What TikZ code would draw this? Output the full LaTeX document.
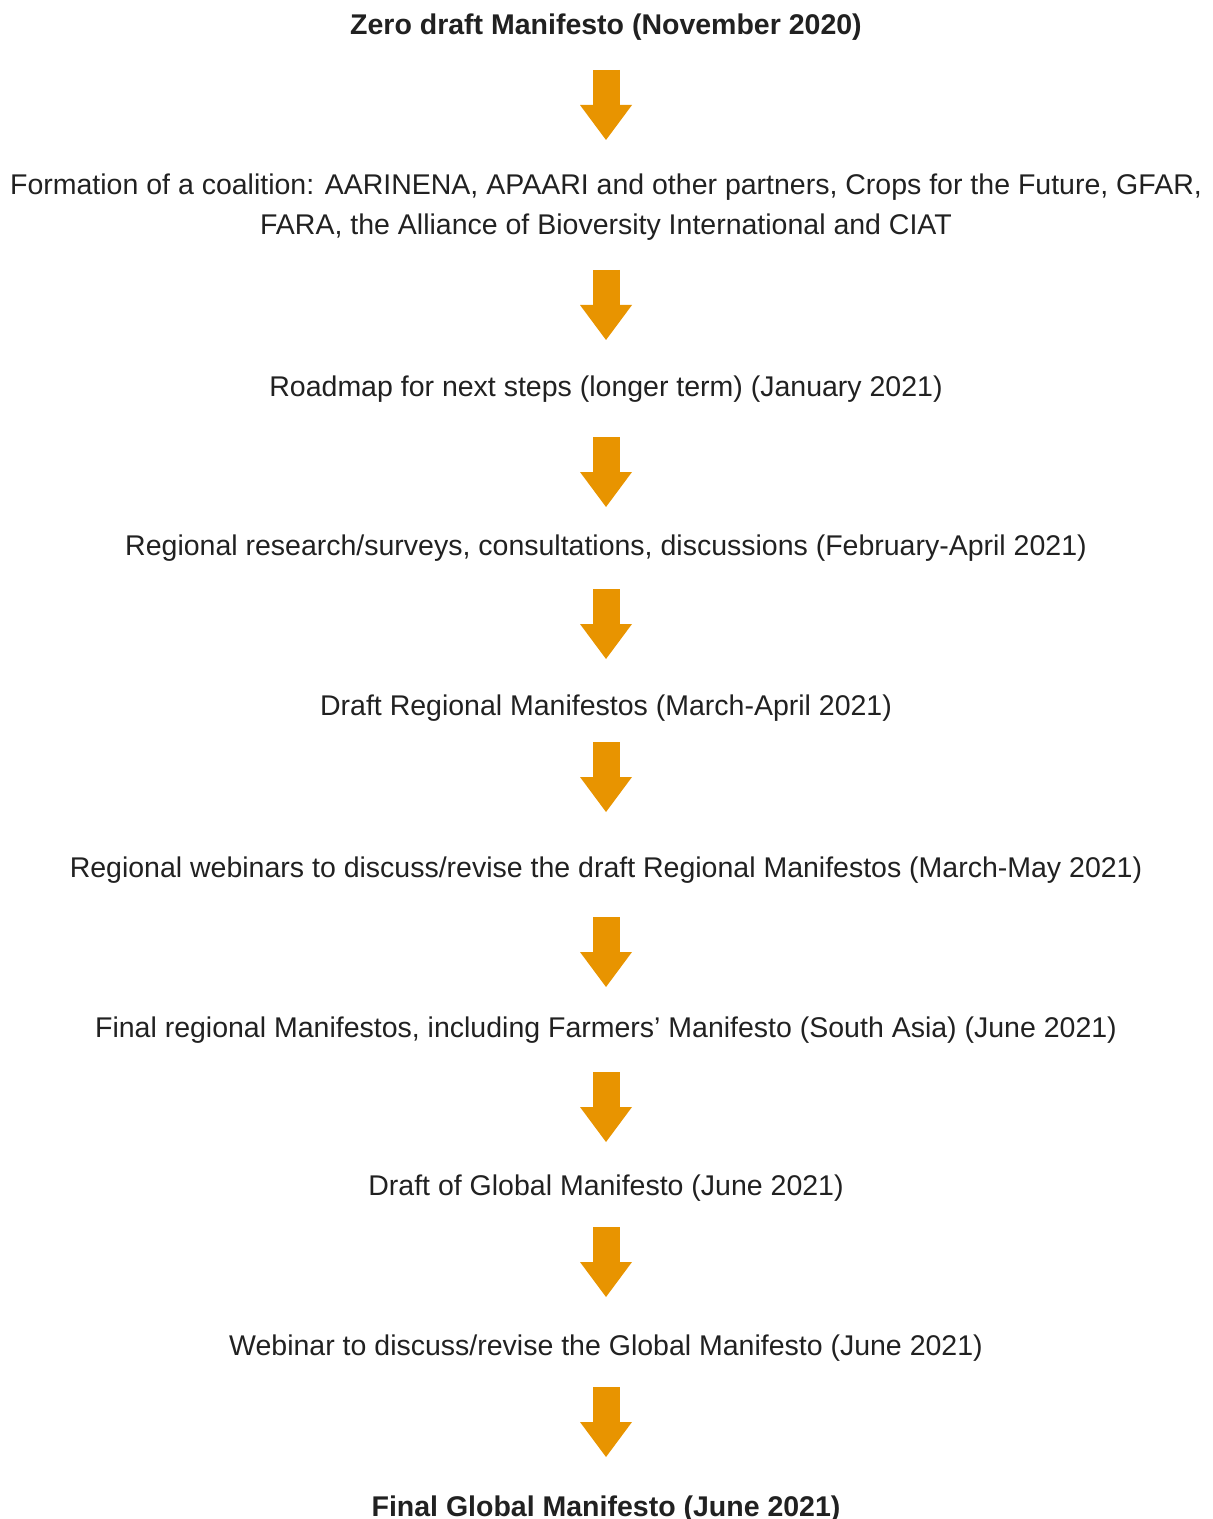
\documentclass[tikz,border=0pt]{standalone}
\usepackage{fontspec}
\setmainfont{Liberation Sans}
\usetikzlibrary{arrows.meta,calc}
\definecolor{arroworange}{RGB}{232,148,0}
\definecolor{textgrey}{RGB}{33,33,33}
\tikzset{
	stage/.style={inner sep=0pt, anchor=base, align=center, text=textgrey,
		font=\fontsize{14.25}{20}\selectfont},
	keystage/.style={stage, font=\fontsize{14.25}{20}\selectfont\bfseries},
	flowarrow/.style={draw=arroworange, line width=13.5pt,
		-{Triangle[width=26pt,length=17.5pt,line width=0pt]}}
}

\begin{document}
\begin{tikzpicture}[x=0.5pt, y=-0.5pt]
		\useasboundingbox (0,0) rectangle (1213,1519);
		\node[keystage] (zero) at (606,35) {Zero draft Manifesto (November 2020)};
		\node[stage] (coalition) at (606,235) {Formation of a coalition: AARINENA, APAARI and other partners, Crops for the Future, GFAR,\\ FARA, the Alliance of Bioversity International and CIAT};
		\node[stage] (roadmap) at (606,396) {Roadmap for next steps (longer term) (January 2021)};
		\node[stage] (research) at (606,555) {Regional research/surveys, consultations, discussions (February-April 2021)};
		\node[stage] (draftreg) at (606,715) {Draft Regional Manifestos (March-April 2021)};
		\node[stage] (webinars) at (606,877) {Regional webinars to discuss/revise the draft Regional Manifestos (March-May 2021)};
		\node[stage] (finalreg) at (606,1037) {Final regional Manifestos, including Farmers’ Manifesto (South Asia) (June 2021)};
		\node[stage] (draftglob) at (606,1195) {Draft of Global Manifesto (June 2021)};
		\node[stage] (webinar) at (606,1355) {Webinar to discuss/revise the Global Manifesto (June 2021)};
		\node[keystage] (finalglob) at (606,1516) {Final Global Manifesto (June 2021)};
		% block arrows between the stages
		\draw[flowarrow] ($(zero.base)+(0,35)$) -- ($(coalition.base)+(0,-95)$);
		\draw[flowarrow] ($(coalition.base)+(0,35)$) -- ($(roadmap.base)+(0,-56)$);
		\draw[flowarrow] ($(roadmap.base)+(0,41)$) -- ($(research.base)+(0,-48)$);
		\draw[flowarrow] ($(research.base)+(0,34)$) -- ($(draftreg.base)+(0,-56)$);
		\draw[flowarrow] ($(draftreg.base)+(0,27)$) -- ($(webinars.base)+(0,-65)$);
		\draw[flowarrow] ($(webinars.base)+(0,40)$) -- ($(finalreg.base)+(0,-50)$);
		\draw[flowarrow] ($(finalreg.base)+(0,35)$) -- ($(draftglob.base)+(0,-53)$);
		\draw[flowarrow] ($(draftglob.base)+(0,32)$) -- ($(webinar.base)+(0,-58)$);
		\draw[flowarrow] ($(webinar.base)+(0,32)$) -- ($(finalglob.base)+(0,-59)$);
\end{tikzpicture}
\end{document}
